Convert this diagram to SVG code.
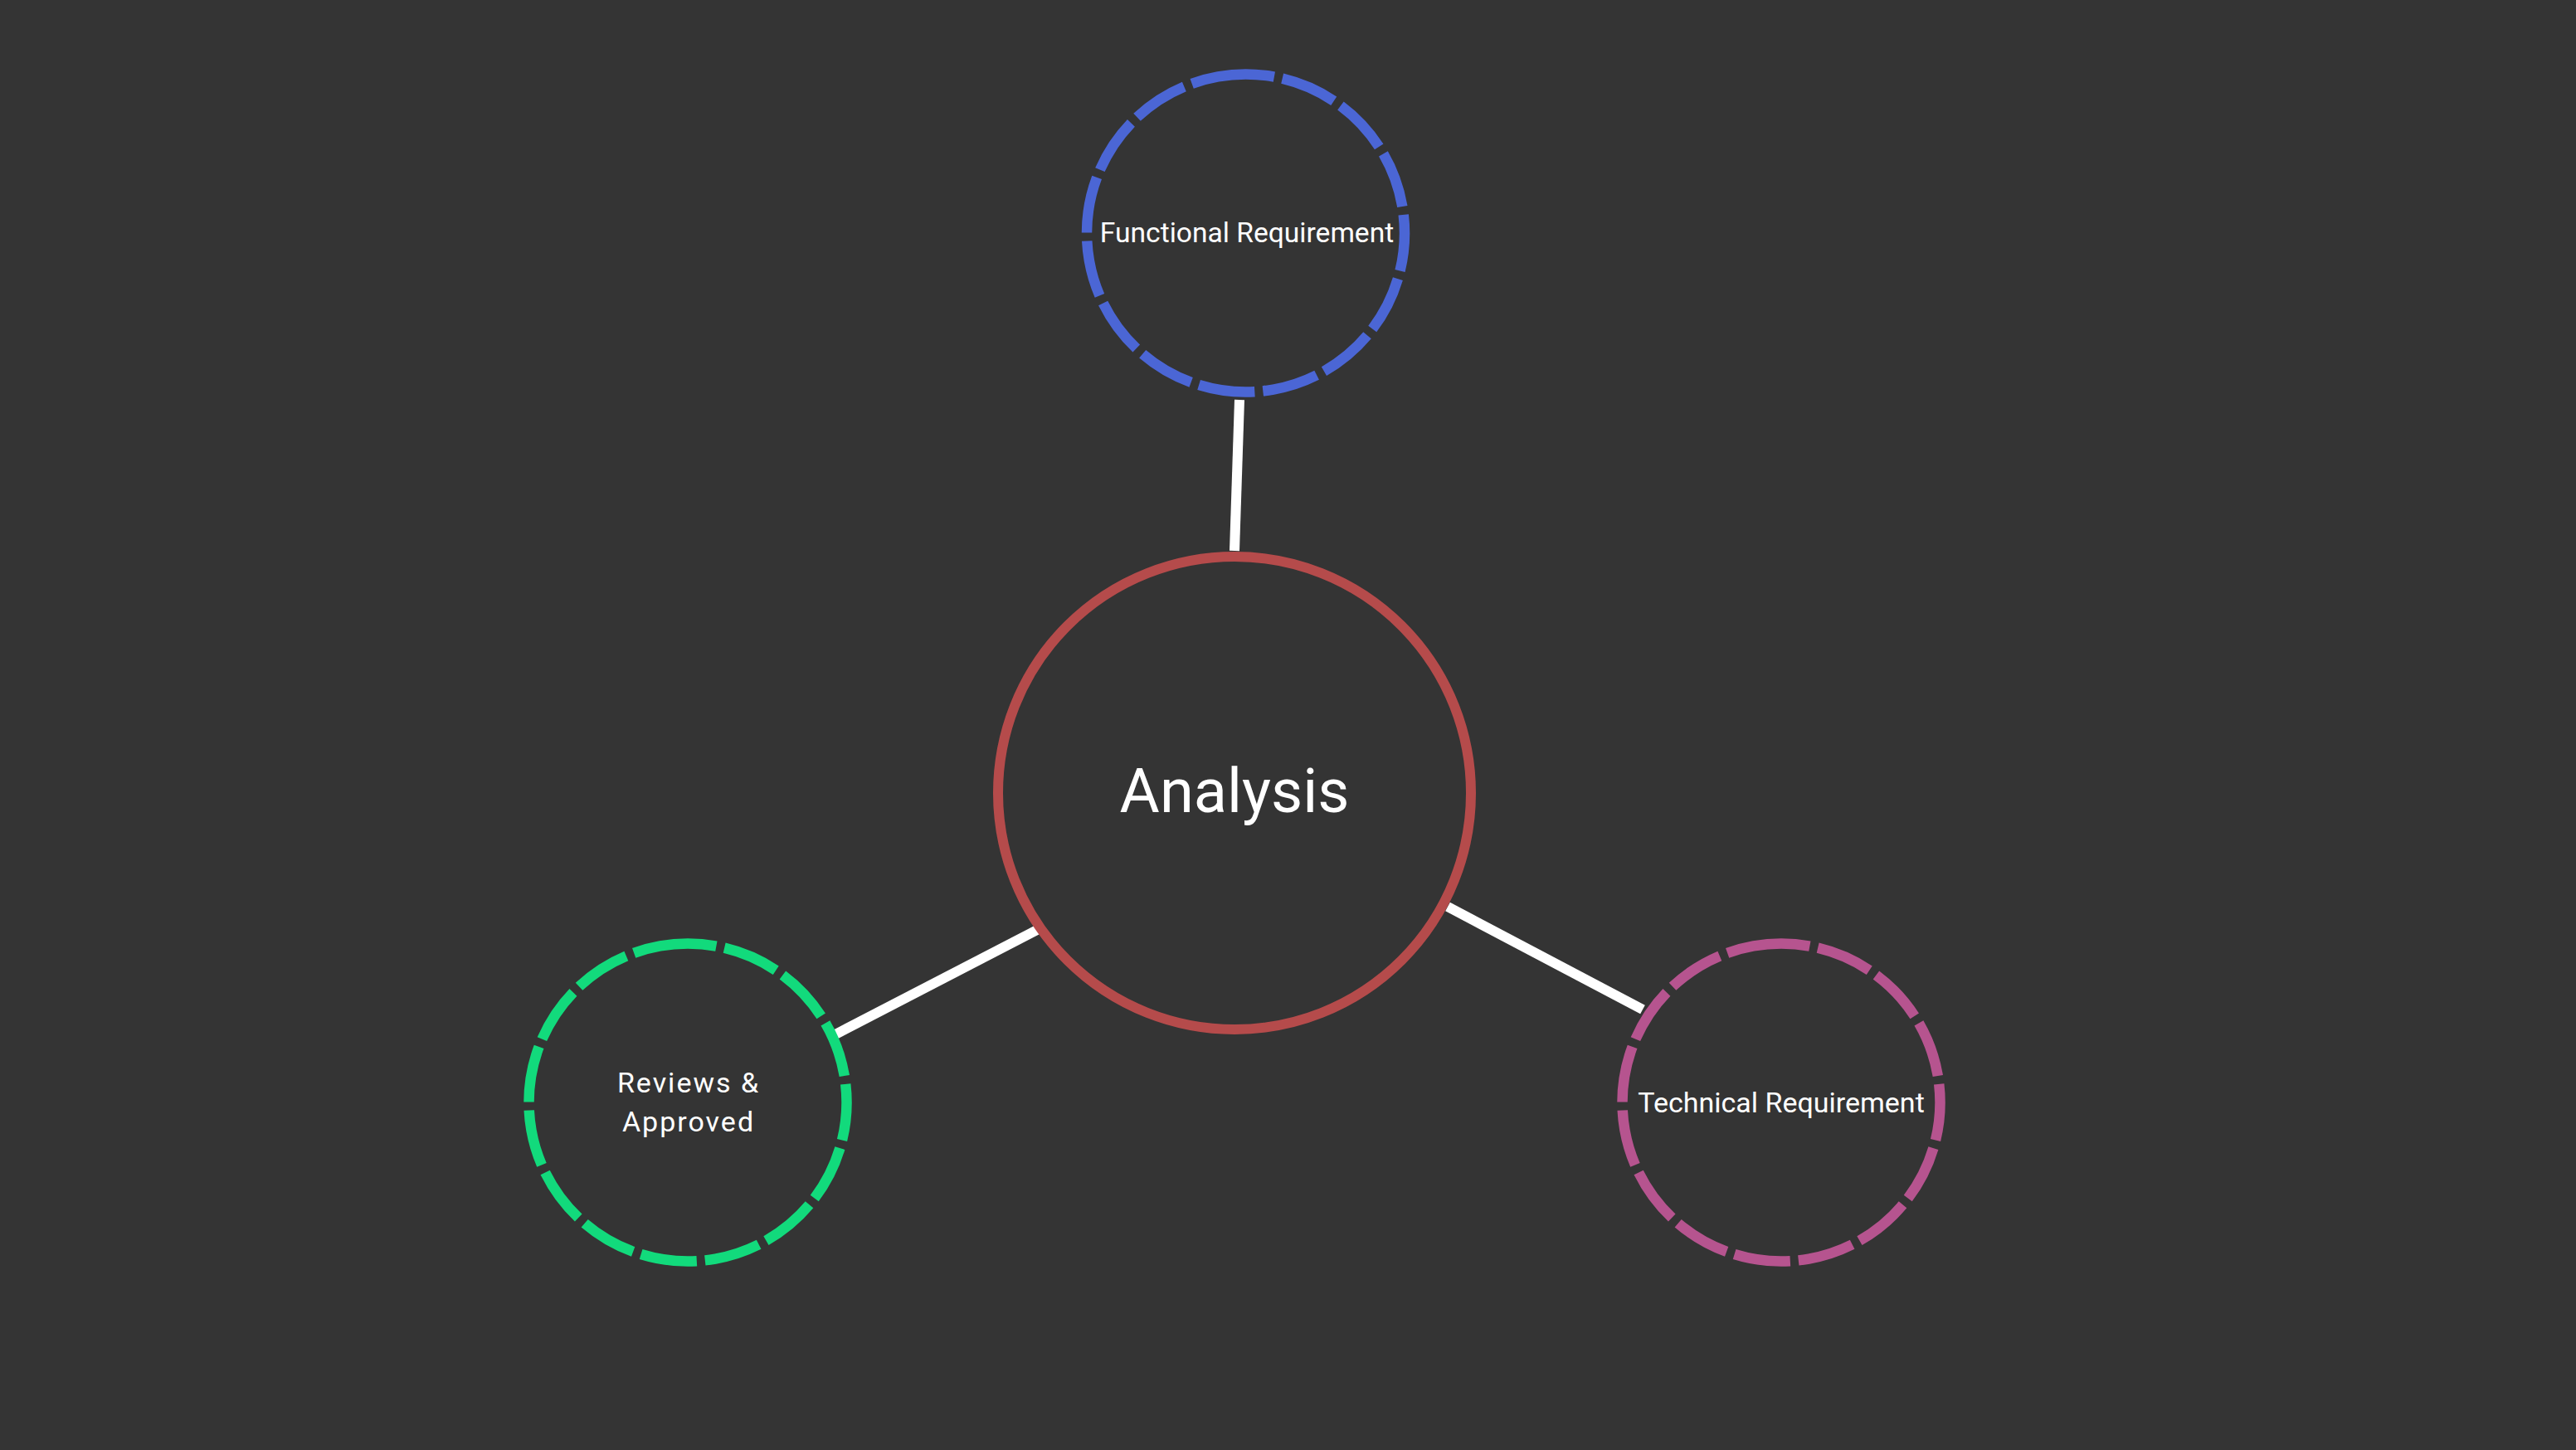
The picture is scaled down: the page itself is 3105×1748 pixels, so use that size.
<svg xmlns="http://www.w3.org/2000/svg" width="3105" height="1748" viewBox="0 0 3105 1748">
  <style>
    .link { stroke: #ffffff; stroke-width: 12; fill: none; }
    .ring { fill: none; stroke-width: 12.5; stroke-dasharray: 68 10; }
    .label { font-family: Roboto, "Liberation Sans", sans-serif; fill: #ffffff; text-anchor: middle; }
    .small { font-size: 34px; }
  </style>
  <rect width="3105" height="1748" fill="#343434"/>

  <!-- connectors between the hub and the satellites -->
  <g id="connectors">
    <line class="link" x1="1494" y1="482" x2="1488" y2="664"/>
    <line class="link" x1="1007" y1="1247" x2="1252" y2="1120"/>
    <line class="link" x1="1745" y1="1093" x2="1980" y2="1217"/>
  </g>

  <g id="node-analysis">
    <circle cx="1488" cy="956" r="285" fill="none" stroke="#B54B4B" stroke-width="12"/>
    <text class="label" x="1488" y="979" font-size="74">Analysis</text>
  </g>

  <!-- dashed satellites: the dash run starts just left of the top -->
  <g id="node-functional">
    <circle class="ring" cx="1501.5" cy="281" r="191.5" stroke="#4B66D5" transform="rotate(-100 1501.5 281)"/>
    <text class="label" x="1503" y="292" font-size="33.6">Functional Requirement</text>
  </g>

  <g id="node-reviews">
    <circle class="ring" cx="829" cy="1329" r="191.5" stroke="#12DA7C" transform="rotate(-100 829 1329)"/>
    <text class="label small" x="830" y="1317" letter-spacing="2">Reviews &amp;</text>
    <text class="label small" x="830" y="1364" letter-spacing="2">Approved</text>
  </g>

  <g id="node-technical">
    <circle class="ring" cx="2147" cy="1329" r="191.5" stroke="#B6548F" transform="rotate(-100 2147 1329)"/>
    <text class="label small" x="2147" y="1341">Technical Requirement</text>
  </g>
</svg>
